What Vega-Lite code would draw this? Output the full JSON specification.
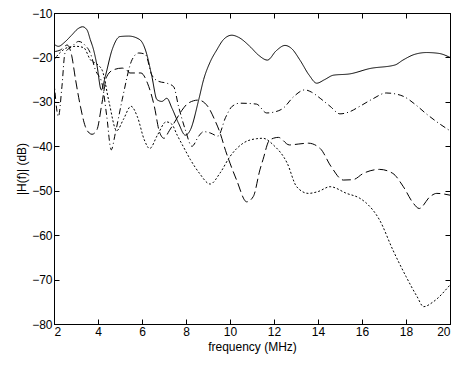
{
  "$schema": "https://vega.github.io/schema/vega-lite/v6.json",
  "width": 396,
  "height": 311,
  "autosize": "none",
  "padding": {"left": 54, "top": 13, "right": 7, "bottom": 41},
  "background": "white",
  "config": {
    "view": {"stroke": "black", "strokeWidth": 1},
    "font": "Liberation Sans",
    "axis": {
      "domainColor": "black",
      "tickColor": "black",
      "labelColor": "black",
      "titleColor": "black",
      "labelFontSize": 12,
      "titleFontSize": 12,
      "titleFontWeight": "normal",
      "grid": false,
      "tickSize": -5,
      "labelPadding": 7
    }
  },
  "data": {"values": [
    {"f": 2, "db": -17, "s": "solid"},
    {"f": 2.2, "db": -17.5, "s": "solid"},
    {"f": 2.5, "db": -16.5, "s": "solid"},
    {"f": 2.8, "db": -15, "s": "solid"},
    {"f": 3.1, "db": -13.5, "s": "solid"},
    {"f": 3.3, "db": -13.1, "s": "solid"},
    {"f": 3.5, "db": -13.8, "s": "solid"},
    {"f": 3.65, "db": -16, "s": "solid"},
    {"f": 3.8, "db": -18.3, "s": "solid"},
    {"f": 3.95, "db": -21.7, "s": "solid"},
    {"f": 4.15, "db": -27.3, "s": "solid"},
    {"f": 4.33, "db": -24.3, "s": "solid"},
    {"f": 4.64, "db": -18.3, "s": "solid"},
    {"f": 5.0, "db": -15.3, "s": "solid"},
    {"f": 5.4, "db": -15.2, "s": "solid"},
    {"f": 5.9, "db": -16, "s": "solid"},
    {"f": 6.05, "db": -17, "s": "solid"},
    {"f": 6.2, "db": -19, "s": "solid"},
    {"f": 6.45, "db": -24.3, "s": "solid"},
    {"f": 6.68, "db": -29.5, "s": "solid"},
    {"f": 6.9, "db": -29.9, "s": "solid"},
    {"f": 7.13, "db": -29.2, "s": "solid"},
    {"f": 7.36, "db": -31.4, "s": "solid"},
    {"f": 7.66, "db": -34.8, "s": "solid"},
    {"f": 7.97, "db": -37.5, "s": "solid"},
    {"f": 8.2, "db": -36.3, "s": "solid"},
    {"f": 8.58, "db": -29.5, "s": "solid"},
    {"f": 8.8, "db": -25, "s": "solid"},
    {"f": 9.1, "db": -21, "s": "solid"},
    {"f": 9.4, "db": -18.3, "s": "solid"},
    {"f": 9.7, "db": -16, "s": "solid"},
    {"f": 10.08, "db": -15, "s": "solid"},
    {"f": 10.4, "db": -15.5, "s": "solid"},
    {"f": 10.9, "db": -17.5, "s": "solid"},
    {"f": 11.3, "db": -19.5, "s": "solid"},
    {"f": 11.7, "db": -20.6, "s": "solid"},
    {"f": 12.1, "db": -18.5, "s": "solid"},
    {"f": 12.5, "db": -17.3, "s": "solid"},
    {"f": 12.8, "db": -18, "s": "solid"},
    {"f": 13.18, "db": -20.6, "s": "solid"},
    {"f": 13.6, "db": -24, "s": "solid"},
    {"f": 13.94, "db": -25.8, "s": "solid"},
    {"f": 14.3, "db": -25, "s": "solid"},
    {"f": 14.7, "db": -24, "s": "solid"},
    {"f": 15.45, "db": -23.7, "s": "solid"},
    {"f": 16.36, "db": -22.5, "s": "solid"},
    {"f": 17.5, "db": -21.7, "s": "solid"},
    {"f": 17.86, "db": -20.6, "s": "solid"},
    {"f": 18.4, "db": -19.3, "s": "solid"},
    {"f": 18.94, "db": -18.9, "s": "solid"},
    {"f": 19.5, "db": -19.1, "s": "solid"},
    {"f": 20, "db": -20, "s": "solid"},

    {"f": 2, "db": -25, "s": "dashdot"},
    {"f": 2.2, "db": -33.3, "s": "dashdot"},
    {"f": 2.36, "db": -26.6, "s": "dashdot"},
    {"f": 2.5, "db": -19, "s": "dashdot"},
    {"f": 2.82, "db": -17.5, "s": "dashdot"},
    {"f": 3.12, "db": -16.4, "s": "dashdot"},
    {"f": 3.4, "db": -17.2, "s": "dashdot"},
    {"f": 3.65, "db": -19, "s": "dashdot"},
    {"f": 3.88, "db": -22.8, "s": "dashdot"},
    {"f": 4.18, "db": -25.8, "s": "dashdot"},
    {"f": 4.4, "db": -33.3, "s": "dashdot"},
    {"f": 4.6, "db": -40.8, "s": "dashdot"},
    {"f": 4.79, "db": -37, "s": "dashdot"},
    {"f": 5.1, "db": -29.5, "s": "dashdot"},
    {"f": 5.55, "db": -20.5, "s": "dashdot"},
    {"f": 5.85, "db": -19, "s": "dashdot"},
    {"f": 6.15, "db": -19.3, "s": "dashdot"},
    {"f": 6.45, "db": -24, "s": "dashdot"},
    {"f": 6.76, "db": -25.4, "s": "dashdot"},
    {"f": 7.13, "db": -25.8, "s": "dashdot"},
    {"f": 7.44, "db": -26.6, "s": "dashdot"},
    {"f": 7.66, "db": -31, "s": "dashdot"},
    {"f": 7.97, "db": -36.3, "s": "dashdot"},
    {"f": 8.27, "db": -40, "s": "dashdot"},
    {"f": 8.58, "db": -37.7, "s": "dashdot"},
    {"f": 8.8, "db": -36.7, "s": "dashdot"},
    {"f": 9.1, "db": -37, "s": "dashdot"},
    {"f": 9.45, "db": -37.7, "s": "dashdot"},
    {"f": 9.8, "db": -33.5, "s": "dashdot"},
    {"f": 10.1, "db": -31, "s": "dashdot"},
    {"f": 10.45, "db": -30.3, "s": "dashdot"},
    {"f": 11.2, "db": -30.5, "s": "dashdot"},
    {"f": 11.67, "db": -32.5, "s": "dashdot"},
    {"f": 12.0, "db": -32.3, "s": "dashdot"},
    {"f": 12.4, "db": -31.5, "s": "dashdot"},
    {"f": 12.9, "db": -28.8, "s": "dashdot"},
    {"f": 13.4, "db": -27.3, "s": "dashdot"},
    {"f": 13.7, "db": -27.8, "s": "dashdot"},
    {"f": 14.1, "db": -29.2, "s": "dashdot"},
    {"f": 14.55, "db": -31, "s": "dashdot"},
    {"f": 15.0, "db": -32.7, "s": "dashdot"},
    {"f": 15.4, "db": -32.3, "s": "dashdot"},
    {"f": 15.9, "db": -31, "s": "dashdot"},
    {"f": 16.5, "db": -29.3, "s": "dashdot"},
    {"f": 17.1, "db": -28, "s": "dashdot"},
    {"f": 17.5, "db": -28.2, "s": "dashdot"},
    {"f": 17.9, "db": -28.8, "s": "dashdot"},
    {"f": 18.4, "db": -30.5, "s": "dashdot"},
    {"f": 18.9, "db": -32.6, "s": "dashdot"},
    {"f": 19.4, "db": -34.5, "s": "dashdot"},
    {"f": 20, "db": -36.5, "s": "dashdot"},

    {"f": 2, "db": -18.7, "s": "dashed"},
    {"f": 2.3, "db": -18.3, "s": "dashed"},
    {"f": 2.6, "db": -17.2, "s": "dashed"},
    {"f": 2.8, "db": -19.5, "s": "dashed"},
    {"f": 2.98, "db": -25, "s": "dashed"},
    {"f": 3.2, "db": -31, "s": "dashed"},
    {"f": 3.42, "db": -35.5, "s": "dashed"},
    {"f": 3.6, "db": -37, "s": "dashed"},
    {"f": 3.73, "db": -37.3, "s": "dashed"},
    {"f": 3.95, "db": -36.3, "s": "dashed"},
    {"f": 4.18, "db": -30.3, "s": "dashed"},
    {"f": 4.4, "db": -24.3, "s": "dashed"},
    {"f": 4.7, "db": -22.8, "s": "dashed"},
    {"f": 5.1, "db": -22.4, "s": "dashed"},
    {"f": 5.3, "db": -22.8, "s": "dashed"},
    {"f": 5.45, "db": -23.5, "s": "dashed"},
    {"f": 5.95, "db": -23.5, "s": "dashed"},
    {"f": 6.25, "db": -25.8, "s": "dashed"},
    {"f": 6.56, "db": -31, "s": "dashed"},
    {"f": 6.79, "db": -36.7, "s": "dashed"},
    {"f": 7.0, "db": -38.2, "s": "dashed"},
    {"f": 7.24, "db": -36.5, "s": "dashed"},
    {"f": 7.55, "db": -34, "s": "dashed"},
    {"f": 7.8, "db": -32, "s": "dashed"},
    {"f": 8.1, "db": -30.3, "s": "dashed"},
    {"f": 8.56, "db": -29.6, "s": "dashed"},
    {"f": 9.0, "db": -31.1, "s": "dashed"},
    {"f": 9.3, "db": -34, "s": "dashed"},
    {"f": 9.55, "db": -37, "s": "dashed"},
    {"f": 9.8, "db": -41, "s": "dashed"},
    {"f": 10.0, "db": -43.8, "s": "dashed"},
    {"f": 10.3, "db": -47.6, "s": "dashed"},
    {"f": 10.76, "db": -52.5, "s": "dashed"},
    {"f": 11.06, "db": -51.3, "s": "dashed"},
    {"f": 11.36, "db": -45.3, "s": "dashed"},
    {"f": 11.5, "db": -43, "s": "dashed"},
    {"f": 11.8, "db": -38.6, "s": "dashed"},
    {"f": 12.2, "db": -38, "s": "dashed"},
    {"f": 12.7, "db": -39.7, "s": "dashed"},
    {"f": 13.1, "db": -39.5, "s": "dashed"},
    {"f": 13.56, "db": -39.3, "s": "dashed"},
    {"f": 14.1, "db": -40.5, "s": "dashed"},
    {"f": 14.6, "db": -44.6, "s": "dashed"},
    {"f": 15.15, "db": -47.6, "s": "dashed"},
    {"f": 15.6, "db": -47.5, "s": "dashed"},
    {"f": 16.06, "db": -46.1, "s": "dashed"},
    {"f": 16.8, "db": -45.2, "s": "dashed"},
    {"f": 17.4, "db": -46.1, "s": "dashed"},
    {"f": 17.88, "db": -49.1, "s": "dashed"},
    {"f": 18.33, "db": -52.8, "s": "dashed"},
    {"f": 18.6, "db": -54, "s": "dashed"},
    {"f": 19.1, "db": -51.3, "s": "dashed"},
    {"f": 19.4, "db": -50.6, "s": "dashed"},
    {"f": 20, "db": -51, "s": "dashed"},

    {"f": 2, "db": -20.5, "s": "dotted"},
    {"f": 2.3, "db": -18.8, "s": "dotted"},
    {"f": 2.6, "db": -17.8, "s": "dotted"},
    {"f": 3.0, "db": -17.5, "s": "dotted"},
    {"f": 3.35, "db": -17.8, "s": "dotted"},
    {"f": 3.65, "db": -20.5, "s": "dotted"},
    {"f": 4.0, "db": -21.7, "s": "dotted"},
    {"f": 4.2, "db": -23, "s": "dotted"},
    {"f": 4.5, "db": -30, "s": "dotted"},
    {"f": 4.85, "db": -36.5, "s": "dotted"},
    {"f": 5.15, "db": -34, "s": "dotted"},
    {"f": 5.5, "db": -31, "s": "dotted"},
    {"f": 5.8, "db": -33.5, "s": "dotted"},
    {"f": 6.1, "db": -38.5, "s": "dotted"},
    {"f": 6.35, "db": -40.5, "s": "dotted"},
    {"f": 6.7, "db": -37.5, "s": "dotted"},
    {"f": 7.1, "db": -34.5, "s": "dotted"},
    {"f": 7.35, "db": -35, "s": "dotted"},
    {"f": 7.6, "db": -37.5, "s": "dotted"},
    {"f": 7.88, "db": -40.1, "s": "dotted"},
    {"f": 8.2, "db": -43, "s": "dotted"},
    {"f": 8.6, "db": -46, "s": "dotted"},
    {"f": 9.1, "db": -48.5, "s": "dotted"},
    {"f": 9.55, "db": -46, "s": "dotted"},
    {"f": 10.0, "db": -42.3, "s": "dotted"},
    {"f": 10.6, "db": -39.3, "s": "dotted"},
    {"f": 11.2, "db": -38.3, "s": "dotted"},
    {"f": 11.5, "db": -38.2, "s": "dotted"},
    {"f": 11.97, "db": -39.7, "s": "dotted"},
    {"f": 12.6, "db": -43.8, "s": "dotted"},
    {"f": 13.03, "db": -49.1, "s": "dotted"},
    {"f": 13.56, "db": -50.6, "s": "dotted"},
    {"f": 14.0, "db": -50.2, "s": "dotted"},
    {"f": 14.55, "db": -49.1, "s": "dotted"},
    {"f": 15.3, "db": -50.6, "s": "dotted"},
    {"f": 15.9, "db": -51.7, "s": "dotted"},
    {"f": 16.2, "db": -52.8, "s": "dotted"},
    {"f": 16.8, "db": -56.6, "s": "dotted"},
    {"f": 17.4, "db": -63.3, "s": "dotted"},
    {"f": 18.0, "db": -69.3, "s": "dotted"},
    {"f": 18.5, "db": -73.8, "s": "dotted"},
    {"f": 18.8, "db": -76.1, "s": "dotted"},
    {"f": 19.24, "db": -75, "s": "dotted"},
    {"f": 20, "db": -71.2, "s": "dotted"}
  ]},
  "layer": [
    {
      "mark": {"type": "line", "interpolate": "monotone", "strokeWidth": 1, "color": "black", "clip": true},
      "encoding": {
        "x": {"field": "f", "type": "quantitative",
              "scale": {"domain": [2, 20], "nice": false, "zero": false},
              "axis": {"values": [2,4,6,8,10,12,14,16,18,20], "title": "frequency (MHz)", "titlePadding": 4}},
        "y": {"field": "db", "type": "quantitative",
              "scale": {"domain": [-80, -10], "nice": false, "zero": false},
              "axis": {"values": [-80,-70,-60,-50,-40,-30,-20,-10], "title": "|H(f)| (dB)", "titlePadding": 3}},
        "strokeDash": {"field": "s", "type": "nominal",
              "scale": {"domain": ["solid", "dashdot", "dashed", "dotted"], "range": [[1, 0], [6, 3, 1, 3], [9, 4], [2, 2]]},
              "legend": null}
      }
    },
    {
      "mark": {"type": "point", "opacity": 0},
      "encoding": {
        "x": {"field": "f", "type": "quantitative",
              "axis": {"orient": "top", "values": [2,4,6,8,10,12,14,16,18,20], "labels": false, "title": null}},
        "y": {"field": "db", "type": "quantitative",
              "axis": {"orient": "right", "values": [-80,-70,-60,-50,-40,-30,-20,-10], "labels": false, "title": null}}
      }
    }
  ],
  "resolve": {"axis": {"x": "independent", "y": "independent"}}
}
